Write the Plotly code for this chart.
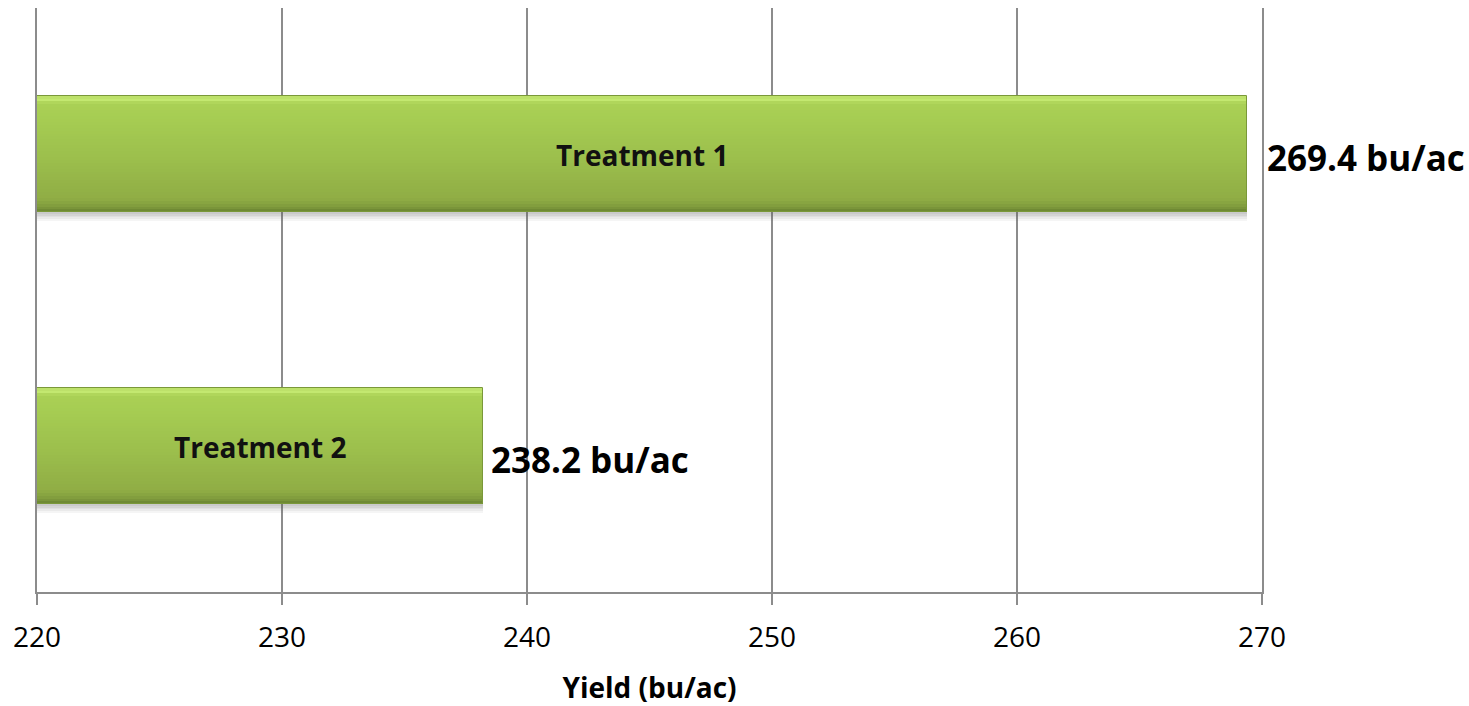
import plotly.graph_objects as go

# Yield per treatment (bu/ac)
categories = ["Treatment 1", "Treatment 2"]
yields = [269.4, 238.2]
value_labels = ["269.4 bu/ac", "238.2 bu/ac"]

# Horizontal axis
x_min, x_max = 220, 270
x_ticks = [220, 230, 240, 250, 260, 270]
x_title = "Yield (bu/ac)"

FONT = "Open Sans"
GRID = "#8c8c8c"
BAR_HALF = 0.2


def hex_to_rgb(h):
    h = h.lstrip("#")
    return tuple(int(h[i:i + 2], 16) for i in (0, 2, 4))


def lerp_color(stops, t):
    for (t0, c0), (t1, c1) in zip(stops, stops[1:]):
        if t0 <= t <= t1:
            f = 0 if t1 == t0 else (t - t0) / (t1 - t0)
            a, b = hex_to_rgb(c0), hex_to_rgb(c1)
            return "rgb(%d,%d,%d)" % tuple(round(a[i] + (b[i] - a[i]) * f) for i in range(3))
    return stops[-1][1]


# vertical shading of the green bars, top (0) to bottom (1)
bar_stops = [
    (0.00, "#b4d862"),
    (0.03, "#c9ed76"),
    (0.07, "#aad155"),
    (0.50, "#9dc14d"),
    (0.88, "#90ad45"),
    (0.95, "#7f9b3d"),
    (1.00, "#6a8531"),
]

fig = go.Figure()

n_strips = 40
h = 2 * BAR_HALF / n_strips
for k in range(n_strips):
    t = (k + 0.5) / n_strips
    fig.add_trace(go.Bar(
        y=categories, x=yields, orientation="h",
        offset=-BAR_HALF + k * h, width=h * 1.4 if k < n_strips - 1 else h,
        marker=dict(color=lerp_color(bar_stops, t), line=dict(width=0)),
        hoverinfo="skip", showlegend=False,
    ))

# soft drop shadow under the bars
n_shadow = 5
sh = 0.028 / n_shadow
for k in range(n_shadow):
    alpha = 0.32 * (1 - k / n_shadow)
    fig.add_trace(go.Bar(
        y=categories, x=yields, orientation="h",
        offset=BAR_HALF + k * sh, width=sh,
        marker=dict(color="rgba(90,90,90,%.2f)" % alpha, line=dict(width=0)),
        hoverinfo="skip", showlegend=False,
    ))

# outline of each bar
fig.add_trace(go.Bar(
    y=categories, x=yields, orientation="h",
    offset=-BAR_HALF, width=2 * BAR_HALF,
    marker=dict(color="rgba(0,0,0,0)", line=dict(color="#7a9839", width=1)),
    hovertemplate="%{y}: %{x} bu/ac<extra></extra>", showlegend=False,
))

# category names inside the bars, yields past the bar ends
label_shift = [-3, -13]
value_gap = [18, 6]
for i, (cat, val, lab) in enumerate(zip(categories, yields, value_labels)):
    fig.add_annotation(
        x=(x_min + val) / 2, y=cat, text="<b>%s</b>" % cat, showarrow=False,
        font=dict(family=FONT, size=28, color="#111111"),
        xanchor="center", yanchor="middle", yshift=-1,
    )
    fig.add_annotation(
        x=val, y=cat, text="<b>%s</b>" % lab, showarrow=False,
        font=dict(family=FONT, size=35, color="#000000"),
        xanchor="left", yanchor="middle", xshift=value_gap[i], yshift=label_shift[i],
    )

fig.update_layout(
    width=1469, height=706,
    margin=dict(l=37, r=207, t=8, b=114),
    paper_bgcolor="white", plot_bgcolor="white",
    barmode="overlay", bargap=0,
    font=dict(family=FONT, color="#000000"),
    showlegend=False,
)
fig.update_xaxes(
    range=[x_min, x_max], tickvals=x_ticks,
    showgrid=True, gridcolor=GRID, gridwidth=1.5,
    showline=True, linecolor=GRID, linewidth=1.5,
    ticks="outside", ticklen=11, tickcolor=GRID, tickwidth=1.5,
    ticklabelstandoff=9,
    tickfont=dict(family=FONT, size=28, color="#000000"),
    zeroline=False,
    title=dict(text="<b>%s</b>" % x_title, font=dict(family=FONT, size=28, color="#000000"), standoff=24),
)
# left/right frame lines sit on the 220 and 270 gridlines
fig.update_yaxes(
    categoryorder="array", categoryarray=categories, autorange="reversed",
    showticklabels=False, showgrid=False,
    showline=True, mirror=True, linecolor=GRID, linewidth=1.5,
    ticks="", zeroline=False,
)

fig.write_html("out.html")
